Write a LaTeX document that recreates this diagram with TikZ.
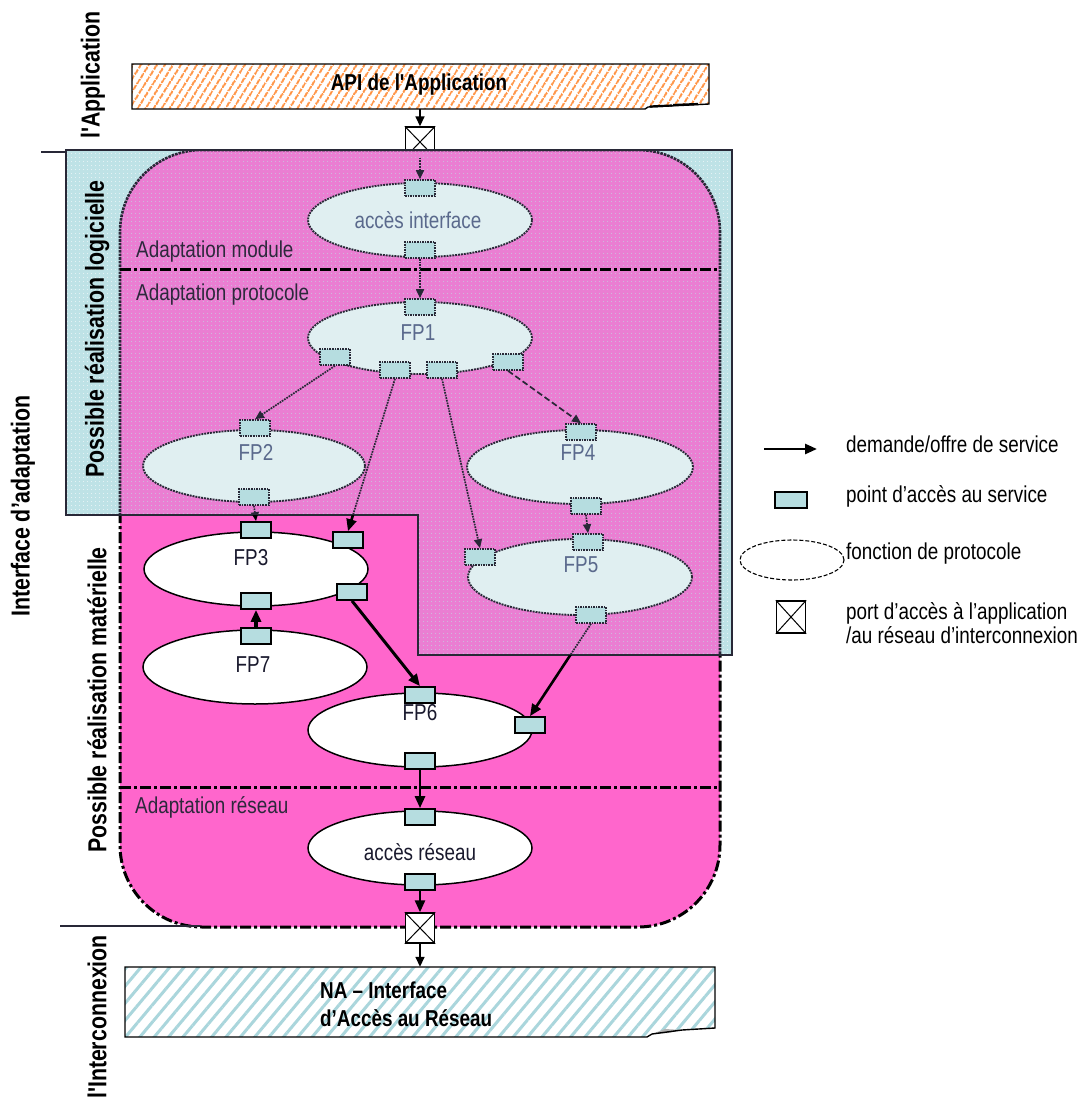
\documentclass[tikz,border=0pt]{standalone}
\usepackage{fontspec}
\setmainfont{Liberation Sans}
\newfontfamily\narrowsf{Liberation Sans}[FakeStretch=0.82]
\usetikzlibrary{arrows.meta,shapes.geometric,patterns.meta}

\definecolor{hotpink}{RGB}{255,102,204}
\definecolor{softpink}{RGB}{234,126,210}
\definecolor{swblue}{RGB}{190,226,230}
\definecolor{sapfill}{RGB}{182,221,224}
\definecolor{swell}{RGB}{224,239,241}
\definecolor{swtext}{RGB}{90,105,140}
\definecolor{hwtext}{RGB}{25,25,45}
\definecolor{modtext}{RGB}{45,40,60}
\definecolor{apiorange}{RGB}{255,140,55}
\definecolor{nacyan}{RGB}{170,214,220}
\definecolor{swline}{RGB}{40,40,55}

\begin{document}
\begin{tikzpicture}[x=1pt,y=-1pt,
  swregion/.style={insert path={(66,150) -- (732,150) -- (732,655) -- (418,655) -- (418,515) -- (66,515) -- cycle}},
  hwregion/.style={insert path={(0,515) -- (418,515) -- (418,655) -- (1086,655) -- (1086,1101) -- (0,1101) -- cycle}},
  lbl/.style={font={\narrowsf\fontsize{23}{27}\selectfont}, inner sep=0pt},
  boldlbl/.style={font={\narrowsf\bfseries\fontsize{23}{28}\selectfont}, inner sep=0pt},
  vlabel/.style={font={\narrowsf\bfseries\fontsize{26}{30}\selectfont}, inner sep=0pt, rotate=90},
  swellipse/.style={ellipse, draw=swline, densely dotted, line width=1.9pt, fill=swell, inner sep=0pt},
  hwellipse/.style={ellipse, draw=black, line width=1.5pt, fill=white, inner sep=0pt},
  swsap/.style={rectangle, draw=swline, densely dotted, line width=1.6pt, fill=sapfill,
    minimum width=30pt, minimum height=16pt, inner sep=0pt},
  hwsap/.style={rectangle, draw=black, line width=1.7pt, fill=sapfill,
    minimum width=30pt, minimum height=16pt, inner sep=0pt},
  portbox/.style={rectangle, draw=black, line width=1.4pt, fill=white,
    minimum width=29pt, minimum height=30pt, inner sep=0pt},
  swarrow/.style={draw=swline, line width=1.7pt, densely dotted, -{Triangle[length=9pt,width=8pt]}},
  hwarrow/.style={draw=black, line width=2.6pt, -{Triangle[length=12pt,width=10pt]}},
  thinarrow/.style={draw=black, line width=1.6pt, -{Triangle[length=10pt,width=9pt]}},
  sepline/.style={draw=black, line width=3pt, dash pattern=on 11pt off 3pt on 3pt off 3pt},
  frame/.style={rounded corners=82pt}
]
\useasboundingbox (0,0) rectangle (1086,1101);

% access port on the application side (partly under the software zone)
\node[portbox] (portA) at (420,142) {};
\draw[line width=1pt] (portA.north west) -- (portA.south east) (portA.north east) -- (portA.south west);

% software zone
\fill[swblue, swregion];
\path[swregion, pattern={Dots[distance=4pt,radius=0.6pt]}, pattern color=white!80!swblue];

% adaptation interface frame
\fill[hotpink, frame] (120,150) rectangle (720,927);
\begin{scope}
  \clip[swregion];
  \fill[softpink, frame] (120,150) rectangle (720,927);
  \fill[frame, pattern={Dots[distance=4pt,radius=0.5pt]}, pattern color=swblue] (120,150) rectangle (720,927);
  \draw[swline, line width=2.6pt, densely dotted, frame] (120,150) rectangle (720,927);
\end{scope}
\begin{scope}
  \clip[hwregion];
  \draw[black, line width=3pt, dash pattern=on 11pt off 3pt on 3pt off 3pt, frame] (120,150) rectangle (720,927);
\end{scope}
\draw[swline, line width=1.5pt, swregion];

% layer separators
\draw[sepline] (120,269) -- (720,269);
\draw[sepline] (120,787) -- (720,787);

% layer names
\node[lbl, text=modtext, anchor=west] (lmod) at (136,252) {Adaptation module};
\node[lbl, text=modtext, anchor=west] (lprot) at (136,295) {Adaptation protocole};
\node[lbl, text=modtext, anchor=west] (lres) at (135,807) {Adaptation réseau};

% protocol functions
\node[swellipse, minimum width=224pt, minimum height=74pt] (ai) at (420,220) {};
\node[swellipse, minimum width=224pt, minimum height=72pt] (fp1) at (420,338) {};
\node[swellipse, minimum width=222pt, minimum height=72pt] (fp2) at (254,466) {};
\node[swellipse, minimum width=226pt, minimum height=74pt] (fp4) at (580,467) {};
\node[swellipse, minimum width=224pt, minimum height=76pt] (fp5) at (580,577) {};
\node[hwellipse, minimum width=224pt, minimum height=74pt] (fp3) at (256,569) {};
\node[hwellipse, minimum width=224pt, minimum height=74pt] (fp7) at (255,667) {};
\node[hwellipse, minimum width=224pt, minimum height=74pt] (fp6) at (420,730) {};
\node[hwellipse, minimum width=224pt, minimum height=74pt] (ar) at (420,848) {};

\node[lbl, text=swtext] (ait) at (418,220) {accès interface};
\node[lbl, text=swtext] (fp1t) at (418,333) {FP1};
\node[lbl, text=swtext] (fp2t) at (256,452) {FP2};
\node[lbl, text=swtext] (fp4t) at (578,453) {FP4};
\node[lbl, text=swtext] (fp5t) at (581,565) {FP5};
\node[lbl, text=hwtext] (fp3t) at (251,558) {FP3};
\node[lbl, text=hwtext] (fp7t) at (253,665) {FP7};
\node[lbl, text=hwtext] (fp6t) at (420,713) {FP6};
\node[lbl, text=hwtext] (art) at (420,852) {accès réseau};

% service access points
\node[swsap] (sAIt) at (420,188) {};
\node[swsap] (sAIb) at (420,250) {};
\node[swsap] (s1t) at (420,307) {};
\node[swsap] (s1l) at (335,357) {};
\node[swsap] (s1ml) at (395,370) {};
\node[swsap] (s1mr) at (442,370) {};
\node[swsap] (s1r) at (508,362) {};
\node[swsap] (s2t) at (255,428) {};
\node[swsap] (s2b) at (254,497) {};
\node[swsap] (s4t) at (581,432) {};
\node[swsap] (s4b) at (586,506) {};
\node[swsap] (s5t) at (588,542) {};
\node[swsap] (s5l) at (480,557) {};
\node[swsap] (s5b) at (591,615) {};
\node[hwsap] (s3t) at (256,530) {};
\node[hwsap] (s3rt) at (348,540) {};
\node[hwsap] (s3rb) at (352,592) {};
\node[hwsap] (s3b) at (256,601) {};
\node[hwsap] (s7t) at (256,636) {};
\node[hwsap] (s6t) at (420,695) {};
\node[hwsap] (s6r) at (530,725) {};
\node[hwsap] (s6b) at (420,761) {};
\node[hwsap] (sARt) at (420,817) {};
\node[hwsap] (sARb) at (420,882) {};

% access port on the network side
\node[portbox] (portB) at (420,928) {};
\draw[line width=1pt] (portB.north west) -- (portB.south east) (portB.north east) -- (portB.south west);

% service requests inside the software zone
\draw[swarrow] (portA.south) -- (sAIt.north);
\draw[swarrow] (sAIb.south) -- (s1t.north);
\draw[swarrow] (s1l.south) -- (s2t.north);
\draw[swarrow, dash pattern=on 6pt off 3pt] (s1r.south) -- (s4t.north);
\draw[swarrow] (s1mr.south) -- (s5l.north);
\draw[swarrow] (s4b.south) -- (s5t.north);

% service requests crossing into the hardware zone
\begin{scope}
  \clip[swregion];
  \draw[swarrow] (s2b.south) -- (s3t.north);
  \draw[swarrow] (s1ml.south) -- (s3rt.north);
  \draw[swarrow] (s5b.south) -- (s6r.north);
\end{scope}
\begin{scope}
  \clip[hwregion];
  \draw[hwarrow, line width=1.8pt] (s2b.south) -- (s3t.north);
  \draw[hwarrow] (s1ml.south) -- (s3rt.north);
  \draw[hwarrow] (s5b.south) -- (s6r.north);
\end{scope}

% service requests inside the hardware zone
\draw[hwarrow, line width=3.2pt] (s7t.north) -- (s3b.south);
\draw[hwarrow, line width=3pt] (s3rb.south) -- (s6t.north);
\draw[hwarrow] (s6b.south) -- (sARt.north);
\draw[hwarrow] (sARb.south) -- (portB.north);

% application programming interface
\node[minimum width=577pt, minimum height=45pt, inner sep=0pt] (api) at (420.5,86.5) {};
\fill[white] (132,64) -- (709,64) -- (709,104) -- (690,105) -- (648,107) -- (645,109) -- (132,109) -- cycle;
\path[pattern={Lines[angle=58,distance=6.5pt,line width=2.2pt]}, pattern color=apiorange]
  (132,64) -- (709,64) -- (709,104) -- (690,105) -- (648,107) -- (645,109) -- (132,109) -- cycle;
\draw[line width=1.4pt] (132,64) -- (709,64) -- (709,104) -- (690,105) -- (648,107) -- (645,109) -- (132,109) -- cycle;
\draw[line width=2.2pt] (650,106.5) -- (672,105.5) (673,105) -- (698,104);
\node[boldlbl] (apit) at (419,85) {API de l'Application};
\draw[thinarrow] (portA.north |- api.south) -- (portA.north);

% network access interface
\node[minimum width=590pt, minimum height=70pt, inner sep=0pt] (na) at (420,1002) {};
\fill[white] (125,967) -- (715,967) -- (715,1028) -- (682,1030) -- (652,1034) -- (647,1037) -- (125,1037) -- cycle;
\path[pattern={Lines[angle=50,distance=11pt,line width=3pt]}, pattern color=nacyan]
  (125,967) -- (715,967) -- (715,1028) -- (682,1030) -- (652,1034) -- (647,1037) -- (125,1037) -- cycle;
\fill[gray!60] (652,1034) -- (665,1029) -- (682,1030) -- (668,1033) -- cycle;
\draw[line width=1.4pt] (125,967) -- (715,967) -- (715,1028) -- (682,1030) -- (652,1034) -- (647,1037) -- (125,1037) -- cycle;
\node[boldlbl, anchor=west, align=left] (nat) at (320,1004) {NA – Interface\\d’Accès au Réseau};
\draw[thinarrow] (portB.south) -- (portB.south |- na.north);

% zone boundaries on the left
\draw[swline, line width=1.4pt] (41,152) -- (66,152);
\draw[swline, line width=1.4pt] (60,926) -- (200,926);

% zone names
\node[vlabel] (vapp) at (93,75) {l'Application};
\node[vlabel] (vlog) at (97,329) {Possible réalisation logicielle};
\node[vlabel] (vint) at (23,506) {Interface d’adaptation};
\node[vlabel] (vmat) at (97,700) {Possible réalisation matérielle};
\node[vlabel] (vnet) at (97,1017) {l'Interconnexion};

% legend
\coordinate (legA) at (764,449);
\coordinate (legB) at (817,449);
\draw[hwarrow] (legA) -- (legB);
\node[lbl, anchor=west] (leg1) at (846,444) {demande/offre de service};
\node[hwsap, minimum width=32pt] (legsap) at (791,500) {};
\node[lbl, anchor=west] (leg2) at (846,496) {point d’accès au service};
\node[ellipse, draw=black, dash pattern=on 4pt off 2pt, line width=1.1pt, minimum width=104pt, minimum height=40pt, inner sep=0pt] (legell) at (792,560) {};
\node[lbl, anchor=west] (leg3) at (846,554) {fonction de protocole};
\node[portbox, minimum height=32pt] (legport) at (791,617) {};
\draw[line width=1pt] (legport.north west) -- (legport.south east) (legport.north east) -- (legport.south west);
\node[lbl, anchor=west, align=left, font={\narrowsf\fontsize{23}{24}\selectfont}] (leg4) at (846,623) {port d’accès à l’application\\/au réseau d’interconnexion};
\end{tikzpicture}
\end{document}
